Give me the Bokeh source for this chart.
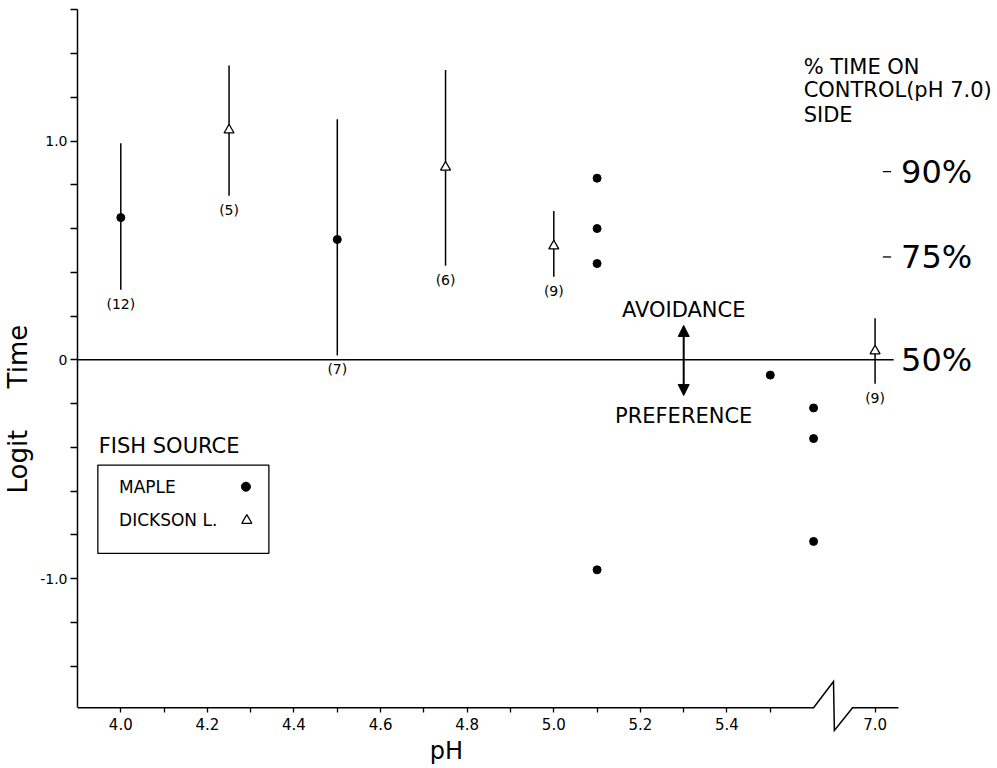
from bokeh.plotting import figure
from bokeh.models import Range1d, FixedTicker, Arrow, NormalHead, ColumnDataSource, LinearAxis
from bokeh.core.properties import value
from bokeh.embed import file_html
from bokeh.resources import INLINE

# ---------------- data ----------------
maple_ph = [4.0, 4.5]
maple_mean = [0.65, 0.55]
maple_hi = [0.99, 1.10]
maple_lo = [0.32, 0.02]
maple_n = ["(12)", "(7)"]

dickson_ph = [4.25, 4.75, 5.0, 7.0]
dickson_mean = [1.05, 0.88, 0.52, 0.04]
dickson_hi = [1.345, 1.325, 0.68, 0.19]
dickson_lo = [0.75, 0.43, 0.38, -0.11]
dickson_n = ["(5)", "(6)", "(9)", "(9)"]

single_ph = [5.1, 5.1, 5.1, 5.1, 5.5, 5.6, 5.6, 5.6]
single_logit = [0.83, 0.60, 0.44, -0.96, -0.07, -0.22, -0.36, -0.83]

x_major_ph = [4.0, 4.2, 4.4, 4.6, 4.8, 5.0, 5.2, 5.4, 7.0]
x_major_labels = ["4.0", "4.2", "4.4", "4.6", "4.8", "5.0", "5.2", "5.4", "7.0"]
x_minor_ph = [4.1, 4.3, 4.5, 4.7, 4.9, 5.1, 5.3, 5.5]
y_major = [-1.0, 0.0, 1.0]
y_major_labels = ["-1.0", "0", "1.0"]
y_minor = [-1.4, -1.2, -0.8, -0.6, -0.4, -0.2, 0.2, 0.4, 0.6, 0.8, 1.2, 1.4, 1.6]

pct_labels = ["90%", "75%", "50%"]
pct_logit = [0.86, 0.47, 0.0]

# ---------------- axis break (pH 5.6 -> 7.0) ----------------
BREAK_AT = 5.6
AFTER_BREAK_PH = 7.0
AFTER_BREAK_POS = 5.742


def ax(ph):
    return ph if ph <= BREAK_AT + 1e-9 else AFTER_BREAK_POS + (ph - AFTER_BREAK_PH)


AXIS_Y = -1.59
X0, X1 = 3.9, 6.0155
Y0, Y1 = -1.8679, 1.6056
AXIS_END = 5.796
N_GAP = 0.064

FONT = value("DejaVu Sans")
NB = "\u00a0"

p = figure(frame_width=916, frame_height=760,
           min_border_left=74, min_border_right=0, min_border_top=8, min_border_bottom=0,
           x_range=Range1d(X0, X1), y_range=Range1d(Y0, Y1),
           x_axis_location=None,
           output_backend="svg", toolbar_location=None)
p.outline_line_color = None
p.xgrid.visible = False
p.ygrid.visible = False
p.background_fill_color = "white"
p.border_fill_color = "white"

# x axis: fixed on the drawn (broken) axis line, ticks pointing down
major_pos = [ax(v) for v in x_major_ph]
xa = LinearAxis(fixed_location=AXIS_Y,
                ticker=FixedTicker(ticks=major_pos, minor_ticks=[ax(v) for v in x_minor_ph]),
                major_label_overrides={pos: lab for pos, lab in zip(major_pos, x_major_labels)},
                axis_line_color=None,
                major_tick_out=0, major_tick_in=5, minor_tick_out=0, minor_tick_in=5,
                major_tick_line_width=1.3, minor_tick_line_width=1.3,
                major_tick_line_color="black", minor_tick_line_color="black",
                major_label_standoff=-22,
                major_label_text_font="DejaVu Sans", major_label_text_font_size="15px",
                major_label_text_color="black")
p.add_layout(xa, "above")

# y axis
ya = p.yaxis[0]
ya.bounds = (AXIS_Y, 1.6001)
ya.ticker = FixedTicker(ticks=y_major, minor_ticks=y_minor)
ya.major_label_overrides = {v: lab for v, lab in zip(y_major, y_major_labels)}
ya.axis_line_width = 1.5
ya.axis_line_color = "black"
ya.major_tick_out = 7
ya.major_tick_in = 0
ya.minor_tick_out = 7
ya.minor_tick_in = 0
ya.major_tick_line_width = 1.3
ya.minor_tick_line_width = 1.3
ya.major_tick_line_color = "black"
ya.minor_tick_line_color = "black"
ya.major_label_standoff = 3
ya.major_label_text_font = "DejaVu Sans"
ya.major_label_text_font_size = "14px"
ya.major_label_text_color = "black"
ya.axis_label = "Logit" + NB * 5 + "Time" + NB * 5
ya.axis_label_standoff = 4
ya.axis_label_text_font = "DejaVu Sans"
ya.axis_label_text_font_size = "26px"
ya.axis_label_text_font_style = "normal"
ya.axis_label_text_color = "black"

# x axis title
p.text(x=[4.752], y=[-1.790], text=["pH"], text_align="center", text_baseline="middle",
       text_font=FONT, text_font_size=value("24px"), text_color="black")

# broken x-axis line
bx = [X0, BREAK_AT, BREAK_AT + 0.046, BREAK_AT + 0.048, BREAK_AT + 0.09, AXIS_END]
by = [AXIS_Y, AXIS_Y, AXIS_Y + 0.12, AXIS_Y - 0.104, AXIS_Y, AXIS_Y]
p.line(bx, by, line_color="black", line_width=1.5, line_join="miter")

# zero (50%) line
p.segment(x0=[X0], y0=[0.0], x1=[5.785], y1=[0.0], line_color="black", line_width=1.5)

# Maple means with error bars
ms = ColumnDataSource(dict(x=[ax(v) for v in maple_ph], y=maple_mean, hi=maple_hi, lo=maple_lo,
                           ny=[v - N_GAP for v in maple_lo], n=maple_n))
p.segment(x0="x", y0="lo", x1="x", y1="hi", source=ms, line_color="black", line_width=1.5)
p.scatter("x", "y", source=ms, marker="circle", size=8, fill_color="black", line_color="black")
p.text(x="x", y="ny", text="n", source=ms, text_align="center", text_baseline="middle",
       text_font=FONT, text_font_size=value("14px"), text_color="black")

# Dickson L. means with error bars
ds = ColumnDataSource(dict(x=[ax(v) for v in dickson_ph], y=dickson_mean, hi=dickson_hi, lo=dickson_lo,
                           ny=[v - N_GAP for v in dickson_lo], n=dickson_n))
p.segment(x0="x", y0="lo", x1="x", y1="hi", source=ds, line_color="black", line_width=1.5)
p.scatter("x", "y", source=ds, marker="triangle", size=10, fill_color="white", line_color="black", line_width=1.3)
p.text(x="x", y="ny", text="n", source=ds, text_align="center", text_baseline="middle",
       text_font=FONT, text_font_size=value("14px"), text_color="black")

# single Maple observations
p.scatter([ax(v) for v in single_ph], single_logit, marker="circle", size=8, fill_color="black", line_color="black")

# avoidance / preference arrow
p.add_layout(Arrow(start=NormalHead(size=11, fill_color="black", line_color="black"),
                   end=NormalHead(size=11, fill_color="black", line_color="black"),
                   x_start=5.3, y_start=-0.163, x_end=5.3, y_end=0.157,
                   line_width=2, line_color="black"))
p.text(x=[5.3], y=[0.229], text=["AVOIDANCE"], text_align="center", text_baseline="middle",
       text_font=FONT, text_font_size=value("21px"), text_color="black")
p.text(x=[5.3], y=[-0.255], text=["PREFERENCE"], text_align="center", text_baseline="middle",
       text_font=FONT, text_font_size=value("21px"), text_color="black")

# right-hand percent scale
p.text(x=[5.577] * 3, y=[1.336, 1.231, 1.117], text=["% TIME ON", "CONTROL(pH 7.0)", "SIDE"],
       text_align="left", text_baseline="middle", text_font=FONT, text_font_size=value("21px"),
       text_color="black")
p.segment(x0=[5.760] * 2, y0=pct_logit[:2], x1=[5.779] * 2, y1=pct_logit[:2], line_color="black", line_width=1.3)
p.text(x=[5.802] * 3, y=pct_logit, text=pct_labels, text_align="left", text_baseline="middle",
       text_font=FONT, text_font_size=value("32px"), text_color="black")

# fish source key
p.text(x=[3.949], y=[-0.392], text=["FISH SOURCE"], text_align="left", text_baseline="middle",
       text_font=FONT, text_font_size=value("21px"), text_color="black")
p.quad(left=[3.947], right=[4.342], top=[-0.481], bottom=[-0.885], fill_color=None,
       line_color="black", line_width=1.3)
p.text(x=[3.996, 3.996], y=[-0.582, -0.734], text=["MAPLE", "DICKSON L."], text_align="left",
       text_baseline="middle", text_font=FONT, text_font_size=value("17px"), text_color="black")
p.scatter([4.289], [-0.580], marker="circle", size=9, fill_color="black", line_color="black")
p.scatter([4.291], [-0.734], marker="triangle", size=10, fill_color="white", line_color="black", line_width=1.3)

open("out.html", "w").write(file_html(p, INLINE))
